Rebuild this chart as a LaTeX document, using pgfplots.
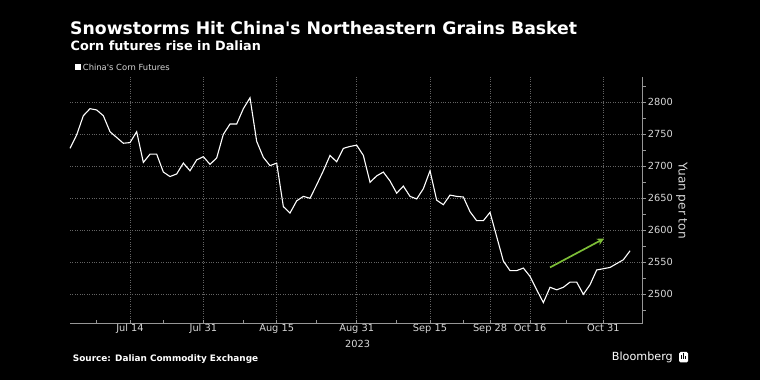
\documentclass[border=0pt]{standalone}
\usepackage{fontspec}
\setmainfont{DejaVu Sans}
\usepackage{pgfplots}
\pgfplotsset{compat=1.18}
\usetikzlibrary{arrows.meta}
\definecolor{ticktxt}{RGB}{215,215,215}
\definecolor{gridc}{RGB}{100,100,100}
\definecolor{axisc}{RGB}{150,150,150}
\definecolor{arrowg}{RGB}{125,190,55}
\pgfplotstableread{
idx val
-9 2728
-8 2749
-7 2779
-6 2790
-5 2788
-4 2779
-3 2754
-2 2745
-1 2736
0 2737
1 2754
2 2706
3 2719
4 2719
5 2691
6 2684
7 2688
8 2705
9 2693
10 2710
11 2715
12 2703
13 2713
14 2750
15 2766
16 2766
17 2790
18 2807
19 2739
20 2714
21 2701
22 2705
23 2637
24 2627
25 2646
26 2653
27 2650
28 2671
29 2693
30 2717
31 2707
32 2728
33 2731
34 2733
35 2717
36 2675
37 2685
38 2691
39 2677
40 2658
41 2669
42 2653
43 2649
44 2665
45 2693
46 2647
47 2640
48 2655
49 2653
50 2652
51 2629
52 2615
53 2615
54 2628
55 2590
56 2552
57 2537
58 2537
59 2541
60 2528
61 2507
62 2487
63 2511
64 2507
65 2511
66 2519
67 2519
68 2500
69 2515
70 2538
71 2540
72 2542
73 2548
74 2554
75 2568
}\corn
\begin{document}
\begin{tikzpicture}
\fill[black] (0bp,0bp) rectangle (760bp,380bp);
\node[anchor=base west, inner sep=0pt, text=white] at (70bp,345bp) {\fontsize{17.25bp}{20bp}\selectfont\bfseries Snowstorms Hit China\textquotesingle s Northeastern Grains Basket};
\node[anchor=base west, inner sep=0pt, text=white] at (70.5bp,329.3bp) {\fontsize{12.8bp}{15bp}\selectfont\bfseries Corn futures rise in Dalian};
\fill[white] (75bp,310bp) rectangle (80.5bp,315.7bp);
\node[anchor=base west, inner sep=0pt, text=ticktxt] at (82.7bp,309.3bp) {\fontsize{8.4bp}{10bp}\selectfont China\textquotesingle s Corn Futures};
\begin{axis}[
  at={(70bp,56.7bp)}, anchor=south west,
  scale only axis, width=572.7bp, height=246.3bp,
  xmin=-9, xmax=76.9, ymin=2454.7, ymax=2839.5,
  axis x line*=bottom, axis y line*=right,
  axis line style={axisc, line width=0.7bp},
  xtick={0,11,22,34,45,54,60,71},
  xticklabels={Jul 14,Jul 31,Aug 15,Aug 31,Sep 15,Sep 28,Oct 16,Oct 31},
  minor xtick={-5,5,17,28,40,50,65.5},
  ytick={2500,2550,2600,2650,2700,2750,2800},
  minor ytick={2475,2525,2575,2625,2675,2725,2775,2825},
  xtick align=inside, ytick align=outside,
  major tick length=3.5bp, minor tick length=3bp,
  tick style={axisc, line width=0.6bp},
  grid=major,
  major grid style={gridc, dotted, line width=0.6bp},
  minor grid style={draw=none},
  /pgf/number format/assume math mode=true,
  /pgf/number format/1000 sep={},
  yticklabel style={font=\fontsize{9.8bp}{11bp}\selectfont, text=ticktxt, anchor=west, inner sep=0pt, xshift=1.5bp},
  xticklabel style={font=\fontsize{9.8bp}{11bp}\selectfont, text=ticktxt, anchor=base, inner sep=0pt, yshift=-8bp},
  clip=false,
]
\addplot[white, line width=1.1bp, mark=none] table[x=idx, y=val] {\corn};
\draw[arrowg, line width=1.7bp, -{Stealth[length=7bp,width=7bp]}] (axis cs:63,2542) -- (axis cs:71.1,2587);
\end{axis}
\node[anchor=base, inner sep=0pt, text=ticktxt] at (357.7bp,32.5bp) {\fontsize{9.8bp}{11bp}\selectfont 2023};
\node[anchor=center, inner sep=0pt, text=ticktxt, rotate=-90] at (681.7bp,179.5bp) {\fontsize{12.1bp}{14bp}\selectfont Yuan per ton};
\node[anchor=base west, inner sep=0pt, text=white] at (72.7bp,18.3bp) {\fontsize{8.9bp}{10bp}\selectfont\bfseries Source: Dalian Commodity Exchange};
\node[anchor=base west, inner sep=0pt, text=white] at (611.7bp,19.3bp) {\fontsize{11.2bp}{13bp}\selectfont Bloomberg};
\fill[white, rounded corners=1.5bp] (679bp,17.5bp) rectangle (688bp,28bp);
\fill[black] (681bp,21bp) rectangle (682bp,25bp);
\fill[black] (683bp,21bp) rectangle (684bp,26.5bp);
\fill[black] (685bp,21bp) rectangle (686bp,24bp);
\end{tikzpicture}
\end{document}
